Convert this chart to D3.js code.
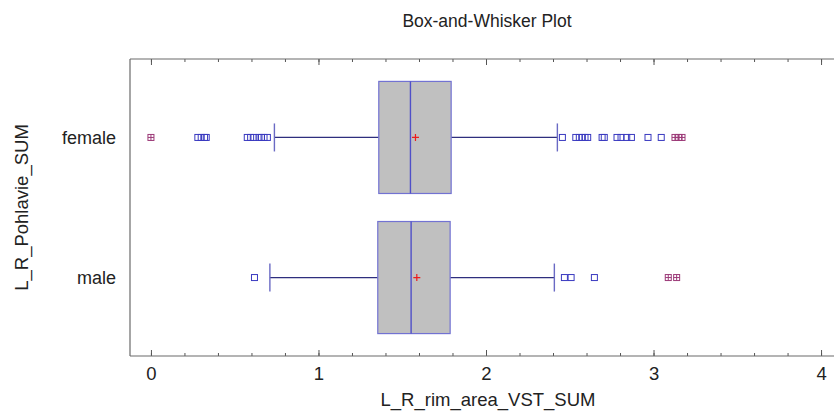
<!DOCTYPE html>
<html>
<head>
<meta charset="utf-8">
<script src="https://cdnjs.cloudflare.com/ajax/libs/d3/7.8.5/d3.min.js"></script>
<style>
body { margin: 0; background: #fff; }
svg text { font-family: Arial, "Liberation Sans", sans-serif; fill: #222; }
</style>
</head>
<body>
<svg id="chart" width="834" height="412"></svg>
<script>
// data
var categories = ["female", "male"];
var q1 = [1.360, 1.354];
var medians = [1.549, 1.553];
var means = [1.579, 1.587];
var q3 = [1.792, 1.786];
var whisker_lo = [0.737, 0.710];
var whisker_hi = [2.426, 2.408];
var outliers_female = [0.28, 0.30, 0.32, 0.33, 0.575, 0.595, 0.615, 0.645, 0.66, 0.675, 0.695,
	2.456, 2.536, 2.557, 2.575, 2.591, 2.607, 2.693, 2.706, 2.782, 2.806, 2.840, 2.868, 2.967, 3.046];
var outliers_male = [0.618, 2.468, 2.508, 2.647];
var far_female = [0.0, 3.128, 3.150, 3.170];
var far_male = [3.088, 3.138];
var x_major_ticks = [0, 1, 2, 3, 4];
var title_text = "Box-and-Whisker Plot";
var x_label = "L_R_rim_area_VST_SUM";
var y_label = "L_R_Pohlavie_SUM";

var bw = {
	left: 130, right: 842, top: 59, bottom: 356,
	init: function() {
		bw.svg = d3.select("#chart");
		bw.x = d3.scaleLinear().domain([-0.125, 4.125]).range([bw.left, bw.right]);
		bw.y = d3.scalePoint().domain(categories).range([bw.top, bw.bottom]).padding(0.56);
		bw.draw_frame();
		bw.draw_boxes();
		bw.draw_labels();
	},
	draw_frame: function() {
		var minor = d3.range(0, 4.01, 0.2);
		// bottom axis, ticks pointing inward
		bw.svg.append("g").attr("transform", "translate(0," + bw.bottom + ")")
			.call(d3.axisBottom(bw.x).tickValues(minor).tickSizeInner(-3).tickSizeOuter(0).tickFormat(""))
			.call(function(g){ g.select(".domain").remove(); });
		bw.svg.append("g").attr("class", "xaxis").attr("transform", "translate(0," + bw.bottom + ")")
			.call(d3.axisBottom(bw.x).tickValues(x_major_ticks).tickSizeInner(-6).tickSizeOuter(0).tickPadding(11).tickFormat(d3.format("d")))
			.call(function(g){ g.select(".domain").remove(); });
		// top axis, no labels
		bw.svg.append("g").attr("transform", "translate(0," + bw.top + ")")
			.call(d3.axisTop(bw.x).tickValues(minor).tickSizeInner(-3).tickSizeOuter(0).tickFormat(""))
			.call(function(g){ g.select(".domain").remove(); });
		bw.svg.append("g").attr("transform", "translate(0," + bw.top + ")")
			.call(d3.axisTop(bw.x).tickValues(x_major_ticks).tickSizeInner(-6).tickSizeOuter(0).tickFormat(""))
			.call(function(g){ g.select(".domain").remove(); });
		bw.svg.selectAll(".tick line").attr("stroke", "#555");
		bw.svg.selectAll(".xaxis text").style("font-size", "18.5px").attr("fill", "#1e1e1e");

		var frame = bw.svg.append("g").attr("stroke", "#6a6a6a").attr("stroke-width", 1.2);
		frame.append("line").attr("x1", bw.left).attr("x2", 834).attr("y1", bw.top).attr("y2", bw.top);
		frame.append("line").attr("x1", bw.left).attr("x2", 834).attr("y1", bw.bottom).attr("y2", bw.bottom);
		frame.append("line").attr("x1", bw.left).attr("x2", bw.left).attr("y1", bw.top).attr("y2", bw.bottom);
	},
	draw_boxes: function() {
		var step = bw.y.step();
		var box_h = 0.8 * step;
		var cap_h = 0.2 * step;
		var outs = [outliers_female, outliers_male];
		var fars = [far_female, far_male];

		categories.forEach(function(c, i) {
			var cy = bw.y(c);
			var g = bw.svg.append("g");
			// whiskers
			g.append("line").attr("x1", bw.x(whisker_lo[i])).attr("x2", bw.x(q1[i]))
				.attr("y1", cy).attr("y2", cy).attr("stroke", "#2e2e7e").attr("stroke-width", 1.2);
			g.append("line").attr("x1", bw.x(q3[i])).attr("x2", bw.x(whisker_hi[i]))
				.attr("y1", cy).attr("y2", cy).attr("stroke", "#2e2e7e").attr("stroke-width", 1.2);
			[whisker_lo[i], whisker_hi[i]].forEach(function(v) {
				g.append("line").attr("x1", bw.x(v)).attr("x2", bw.x(v))
					.attr("y1", cy - cap_h / 2).attr("y2", cy + cap_h / 2)
					.attr("stroke", "#6a6ac4").attr("stroke-width", 1.4);
			});
			// box
			g.append("rect").attr("x", bw.x(q1[i])).attr("y", cy - box_h / 2)
				.attr("width", bw.x(q3[i]) - bw.x(q1[i])).attr("height", box_h)
				.attr("fill", "#c0c0c0").attr("stroke", "#7272d2").attr("stroke-width", 1.2);
			g.append("line").attr("x1", bw.x(medians[i])).attr("x2", bw.x(medians[i]))
				.attr("y1", cy - box_h / 2).attr("y2", cy + box_h / 2)
				.attr("stroke", "#5050c8").attr("stroke-width", 1.4);
			// mean
			var mx = bw.x(means[i]);
			g.append("path").attr("d", "M" + (mx - 3.5) + "," + cy + "H" + (mx + 3.5) + "M" + mx + "," + (cy - 3.5) + "V" + (cy + 3.5))
				.attr("stroke", "#ee1c1c").attr("stroke-width", 1.2);
			// outside points
			g.selectAll("rect.out").data(outs[i]).enter().append("rect").attr("class", "out")
				.attr("x", function(d){ return bw.x(d) - 3; }).attr("y", cy - 3)
				.attr("width", 6).attr("height", 6)
				.attr("fill", "none").attr("stroke", "#3a3ac0").attr("stroke-width", 1);
			// far outside points, square with plus
			var far = g.selectAll("g.far").data(fars[i]).enter().append("g").attr("class", "far")
				.attr("transform", function(d){ return "translate(" + bw.x(d) + "," + cy + ")"; });
			far.append("rect").attr("x", -3).attr("y", -3).attr("width", 6).attr("height", 6)
				.attr("fill", "none").attr("stroke", "#9c3a78").attr("stroke-width", 1);
			far.append("path").attr("d", "M-3,0H3M0,-3V3").attr("stroke", "#9c3a78").attr("stroke-width", 1);
		});
	},
	draw_labels: function() {
		bw.svg.append("text").attr("x", (bw.left + bw.right) / 2 + 1).attr("y", 27)
			.attr("text-anchor", "middle").style("font-size", "17.5px").text(title_text);
		bw.svg.append("text").attr("x", (bw.left + bw.right) / 2 + 2).attr("y", 406)
			.attr("text-anchor", "middle").style("font-size", "18.5px").text(x_label);
		bw.svg.append("text").attr("transform", "translate(28," + ((bw.top + bw.bottom) / 2) + ") rotate(-90)")
			.attr("text-anchor", "middle").style("font-size", "18.5px").text(y_label);
		bw.svg.selectAll("text.cat").data(categories).enter().append("text").attr("class", "cat")
			.attr("x", 116).attr("y", function(d){ return bw.y(d); })
			.attr("dy", "0.35em").attr("text-anchor", "end").style("font-size", "18px")
			.text(function(d){ return d; });
	}
};

bw.init();
</script>
</body>
</html>
